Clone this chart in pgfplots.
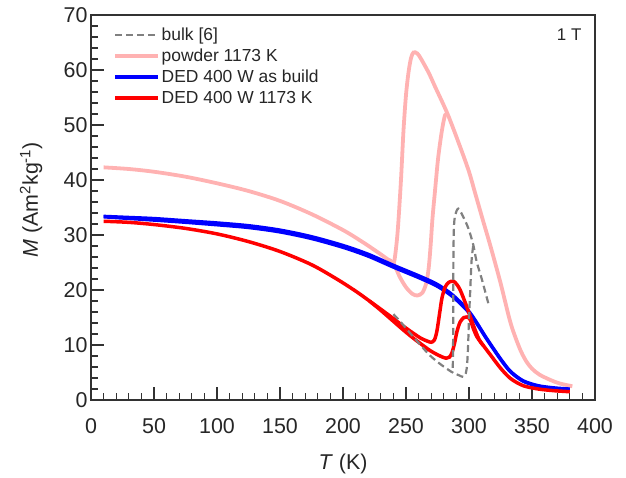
\documentclass[border=0pt]{standalone}
\usepackage{fontspec}
\setmainfont{Liberation Sans}
\usepackage{pgfplots}
\pgfplotsset{compat=1.18}
\definecolor{pinkc}{RGB}{255,178,178}
\definecolor{bluec}{RGB}{0,0,255}
\definecolor{redc}{RGB}{255,0,0}
\definecolor{grayc}{RGB}{128,128,128}
\definecolor{axc}{RGB}{50,50,50}
\begin{document}
\begin{tikzpicture}
\begin{axis}[
  scale only axis, width=504bp, height=385bp,
  xmin=0, xmax=400, ymin=0, ymax=70,
  xtick={0,50,...,400}, ytick={0,10,...,70},
  minor x tick num=4, minor y tick num=4,
  tick align=inside, xtick pos=bottom, ytick pos=left,
  major tick length=13bp, minor tick length=7bp,
  axis line style={axc, line width=1.1bp},
  every tick/.style={axc, line width=1.1bp},
  /pgf/number format/assume math mode=true,
  tick label style={font=\fontsize{21.5}{25}\selectfont, text=black!85},
  xticklabel style={yshift=-15bp},
  xlabel={\textit{T} (K)}, ylabel={\textit{M} (Am\textsuperscript{2}kg\textsuperscript{-1})},
  label style={font=\fontsize{21.5}{25}\selectfont, text=black!85},
  xlabel style={at={(axis description cs:0.5,-0.166)}, anchor=center},
  ylabel style={at={(axis description cs:-0.119,0.52)}, anchor=center},
  clip=false,
  legend style={draw=none, fill=none, at={(0.044,0.97)}, anchor=north west,
    font=\fontsize{17.5}{20}\selectfont, row sep=5bp, inner sep=0bp, text=black!85,
    nodes={inner xsep=1.5bp, inner ysep=1bp}},
  legend cell align=left,
  legend image code/.code={\draw[#1] (0bp,0bp) -- (43bp,0bp);},
]
\addlegendimage{grayc, line width=2.2bp, dash pattern=on 7bp off 4bp}
\addlegendentry{bulk [6]}
\addlegendimage{pinkc, line width=3.8bp}
\addlegendentry{powder 1173 K}
\addlegendimage{bluec, line width=3.8bp}
\addlegendentry{DED 400 W as build}
\addlegendimage{redc, line width=3.8bp}
\addlegendentry{DED 400 W 1173 K}

% powder 1173 K, branch A
\addplot[pinkc, line width=3.8bp, smooth, forget plot] coordinates {
(10,42.3) (30,42.0) (50,41.5) (75,40.6) (100,39.4) (125,38.0) (150,36.2) (175,33.8) (200,30.9) (215,28.8) (228,26.8) (236,25.5) (240,24.9)
(241.5,26.5) (243.5,31) (246,40) (248,49) (250,55.5) (252,59.6) (254,62.2) (256,63.2) (259,63.0) (262,62.0) (268,59.5) (273,57) (283,52) (293,46) (300,41.5) (305,37.5) (311,32.7) (317,28) (325,21.3) (333,14) (340,9.5) (345,7.2) (350,5.7) (356,4.6) (365,3.6) (372,3.0) (382,2.5)
};
% powder 1173 K, branch B
\addplot[pinkc, line width=3.8bp, smooth, forget plot] coordinates {
(236,25.5) (240,24.9) (245,22.4) (250,20.5) (255,19.3) (259,19.0) (263,19.5) (266,21.2) (268,24) (269.5,28) (271,33) (273,38) (275.5,44) (278.5,49) (281,51.8) (283,52)
};
% DED as build
\addplot[bluec, line width=3.3bp, smooth, forget plot] coordinates {
(10,33.4) (30,33.2) (50,33.0) (75,32.6) (100,32.2) (125,31.7) (150,30.9) (175,29.7) (200,28.1) (220,26.5) (240,24.5) (261,22.5) (275,21.0) (287.5,19.0) (301,15.8) (314,11.2) (325,7.5) (333,5.2) (343,3.5) (355,2.6) (368,2.2) (380,2.0)
};
\addplot[bluec, line width=3.3bp, smooth, forget plot] coordinates {
(10,33.3) (30,33.0) (50,32.7) (75,32.3) (100,31.85) (125,31.35) (150,30.55) (175,29.35) (200,27.75) (220,26.15) (240,24.15) (261,22.15) (275,20.65) (287.5,18.7) (301,15.6) (314,11.1) (325,7.4) (333,5.1) (343,3.4) (355,2.5) (368,2.1) (380,1.9)
};
% DED 1173 K
\addplot[redc, line width=3.5bp, smooth, forget plot] coordinates {
(10,32.5) (30,32.3) (50,31.9) (75,31.2) (100,30.2) (125,28.8) (150,27.0) (175,24.6) (195,22.0) (210,19.8) (221,18.0) (230,16.5) (240,14.8) (248,13.4) (256,12.1) (262,11.2) (267,10.7) (270,10.5) (272.5,10.9) (274.5,12.5) (276.5,15.5) (278.5,18.5) (281,20.5) (284,21.4) (287.5,21.6) (290,21.1) (293,20.0) (298,17.1) (303.4,13.6) (308,11.0) (311.4,9.9) (317,8.2) (325,5.8) (333,3.9) (343,2.6) (355,2.0) (367,1.7) (380,1.5)
};
\addplot[redc, line width=3.5bp, smooth, forget plot] coordinates {
(221,18.0) (230,16.3) (240,14.3) (248,12.7) (256,11.2) (263,10.0) (269,9.0) (274.4,8.3) (279,7.8) (282,7.6) (284.5,7.8) (286.5,8.6) (288.5,10.3) (290.5,12.5) (293,14.2) (296,15.0) (298.5,15.1) (301,14.6) (303.4,13.0) (306,11.6) (309,10.6) (311.4,9.9)
};
% bulk [6]
\addplot[grayc, line width=2.2bp, dash pattern=on 7bp off 4bp, smooth, forget plot] coordinates {
(240,15.6) (245,14.4) (250.5,12.9) (258,10.9) (267.7,8.4) (274,7.1) (281,5.9) (287,5.0) (292,4.5) (295.5,4.2) (297.5,4.9) (298.5,6.5) (299.3,10) (300,15) (300.8,19) (302,25.2) (303.4,28.2)
};
\addplot[grayc, line width=2.2bp, dash pattern=on 7bp off 4bp, smooth, forget plot] coordinates {
(315.3,17.6) (310,22.1) (306,25.2) (303.4,28.2) (299.5,31.2) (295,33.5) (291.5,34.8) (289,33.6) (288,31.2) (287.6,25.2) (287.5,14.2) (287.2,7) (287,5.0)
};
\node[anchor=east, font=\fontsize{17}{20}\selectfont, text=black!85] at (rel axis cs:0.98,0.948) {1 T};
\path (rel axis cs:-0.1806,-0.187) rectangle (rel axis cs:1.0615,1.039);
\end{axis}
\end{tikzpicture}
\end{document}
